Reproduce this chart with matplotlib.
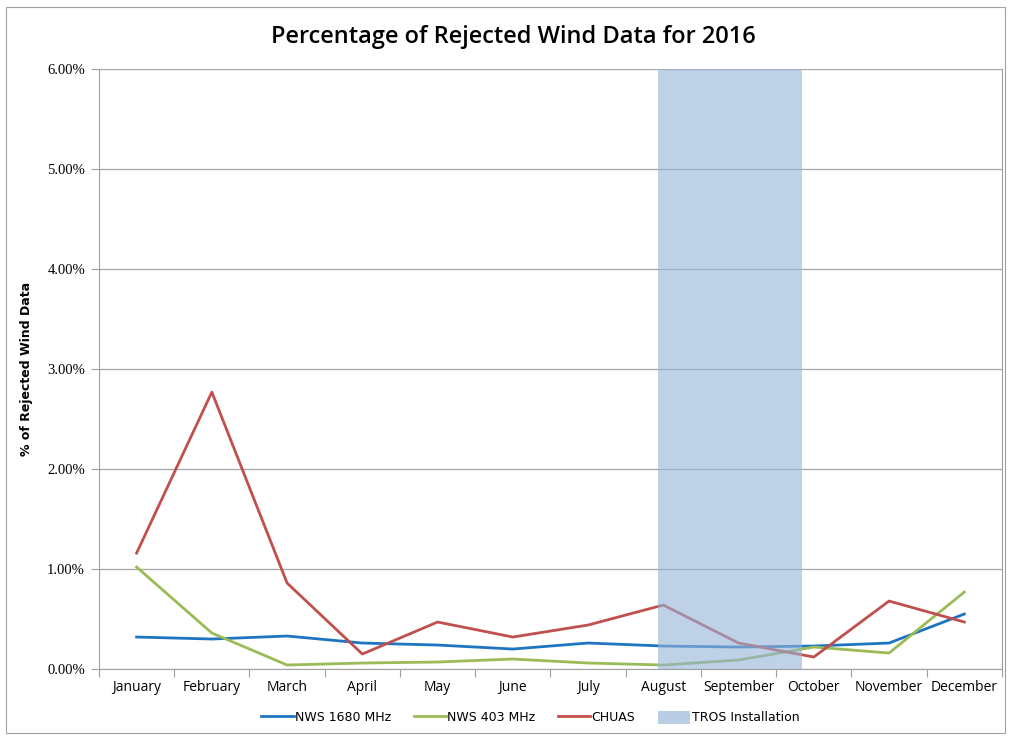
import matplotlib.pyplot as plt
from matplotlib.patches import Patch
from matplotlib.ticker import FuncFormatter, FixedLocator
import numpy as np

# values in percent
months = ["January", "February", "March", "April", "May", "June", "July",
          "August", "September", "October", "November", "December"]
nws_1680 = [0.32, 0.30, 0.33, 0.26, 0.24, 0.20, 0.26, 0.23, 0.22, 0.23, 0.26, 0.55]
nws_403 = [1.02, 0.36, 0.04, 0.06, 0.07, 0.10, 0.06, 0.04, 0.09, 0.22, 0.16, 0.77]
chuas = [1.16, 2.77, 0.86, 0.15, 0.47, 0.32, 0.44, 0.64, 0.26, 0.12, 0.68, 0.47]
tros_span = (6.93, 8.84)  # in category units, Jan = 0

x = np.arange(len(months))

fig = plt.figure(figsize=(10.1, 7.36), dpi=100)
ax = fig.add_axes([0.098, 0.091, 0.894, 0.815])

# outer chart border
fig.patches.append(plt.Rectangle((0.006, 0.004), 0.989, 0.987, transform=fig.transFigure,
                                 fill=False, edgecolor='#a0a0a0', lw=0.8))

ax.plot(x, nws_1680, color='#1f74c2', lw=2.0, label='NWS 1680 MHz', zorder=3)
ax.plot(x, nws_403, color='#9bbb59', lw=2.0, label='NWS 403 MHz', zorder=3)
ax.plot(x, chuas, color='#c0504d', lw=2.0, label='CHUAS', zorder=3)
ax.axvspan(*tros_span, color='#95b3d7', alpha=0.6, lw=0, zorder=4, label='TROS Installation')

ax.set_xlim(-0.5, len(months) - 0.5)
ax.set_ylim(0, 6)
ax.set_yticks(np.arange(0, 7, 1))
ax.yaxis.set_major_formatter(FuncFormatter(lambda v, p: f"{v:.2f}%"))
ax.grid(axis='y', color='#a6a6a6', lw=0.9, zorder=1)

ax.xaxis.set_major_locator(FixedLocator(np.arange(-0.5, len(months), 1)))
ax.xaxis.set_major_formatter(FuncFormatter(lambda v, p: ""))
ax.xaxis.set_minor_locator(FixedLocator(x))
ax.set_xticklabels(months, minor=True, fontsize=10, family='Open Sans')
ax.tick_params(axis='x', which='major', length=6, color='#a0a0a0', direction='out')
ax.tick_params(axis='x', which='minor', length=0, pad=8)
ax.tick_params(axis='y', length=6, color='#a0a0a0', labelsize=10.5, pad=4)
for lbl in ax.get_yticklabels():
    lbl.set_family('Liberation Serif')

for side in ['left', 'right', 'top', 'bottom']:
    ax.spines[side].set_color('#a0a0a0')
ax.spines['top'].set_visible(False)

ax.set_ylabel("% of Rejected Wind Data", fontsize=9, fontweight='bold', labelpad=10)
fig.text(0.508, 0.950, "Percentage of Rejected Wind Data for 2016", ha='center', va='center',
         fontsize=17, fontweight='semibold', family='Open Sans')

handles = [plt.Line2D([], [], color='#1f74c2', lw=2.0),
           plt.Line2D([], [], color='#9bbb59', lw=2.0),
           plt.Line2D([], [], color='#c0504d', lw=2.0),
           Patch(facecolor='#b9cde5', edgecolor='none')]
labels = ['NWS 1680 MHz', 'NWS 403 MHz', 'CHUAS', 'TROS Installation']
fig.legend(handles, labels, loc='center', bbox_to_anchor=(0.525, 0.025), ncol=4,
           frameon=False, fontsize=9, handlelength=2.6, handleheight=1.2,
           handletextpad=0.1, columnspacing=1.8)

fig.savefig('out.png', dpi=100)
